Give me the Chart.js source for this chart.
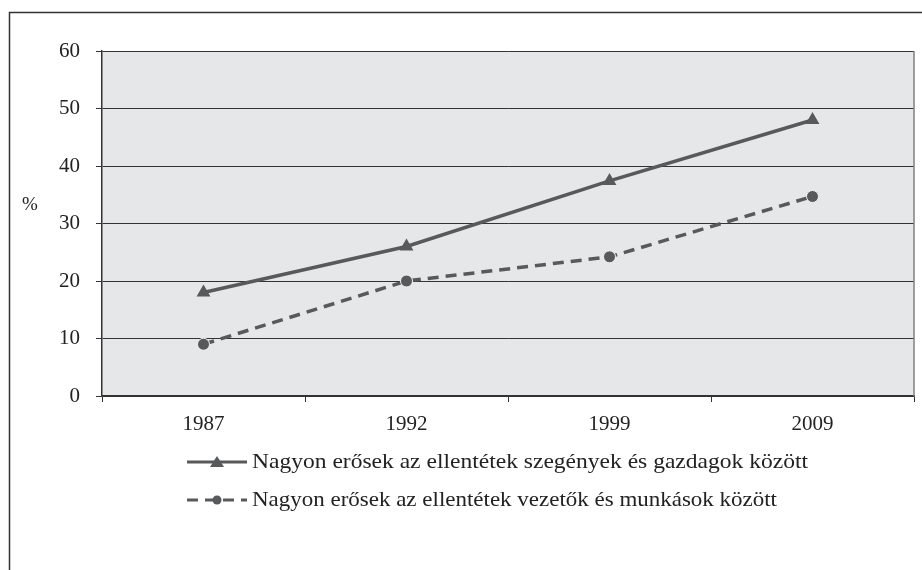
<!DOCTYPE html>
<html>
<head>
<meta charset="utf-8">
<script src="https://cdn.jsdelivr.net/npm/chart.js@4/dist/chart.umd.min.js"></script>
<style>
  html, body { margin: 0; padding: 0; background: #fff; }
  #wrap { width: 922px; height: 570px; position: relative; }
</style>
</head>
<body>
<div id="wrap"><canvas id="chart" width="922" height="570"></canvas></div>
<script>
// adatok
const years = ['1987', '1992', '1999', '2009'];
const szegenyGazdag = [18, 26, 37.4, 48];
const vezetoMunkas = [9, 20, 24.2, 34.7];
const yTicks = [0, 10, 20, 30, 40, 50, 60];
const labelSzegeny = 'Nagyon erősek az ellentétek szegények és gazdagok között';
const labelVezeto = 'Nagyon erősek az ellentétek vezetők és munkások között';

const FONT = '"Liberation Serif", "DejaVu Serif", serif';
const LINE = '#58595b';

// háttér, keret, % felirat, jelmagyarázat
const decor = {
  id: 'decor',
  beforeDraw(chart) {
    const { ctx, chartArea: a } = chart;
    ctx.save();
    ctx.fillStyle = '#fff';
    ctx.fillRect(0, 0, chart.width, chart.height);
    ctx.strokeStyle = '#333';
    ctx.lineWidth = 1.5;
    ctx.beginPath();
    ctx.moveTo(9.5, 570);
    ctx.lineTo(9.5, 12.5);
    ctx.lineTo(922, 12.5);
    ctx.stroke();
    ctx.fillStyle = '#e6e7e8';
    ctx.fillRect(a.left, a.top, a.right - a.left, a.bottom - a.top);
    ctx.restore();
  },
  afterDraw(chart) {
    const { ctx, chartArea: a } = chart;
    ctx.save();
    ctx.strokeStyle = '#808080';
    ctx.lineWidth = 1.5;
    ctx.beginPath();
    ctx.moveTo(a.right, a.top);
    ctx.lineTo(a.right, a.bottom);
    ctx.stroke();

    ctx.fillStyle = '#222';
    ctx.font = '19px ' + FONT;
    ctx.textAlign = 'left';
    ctx.textBaseline = 'middle';
    ctx.fillText('%', 22, 205);

    // jelmagyarázat (a szöveg kb. az eredeti szélességére nyújtva)
    const rows = [
      { y: 462, w: 556, ds: chart.data.datasets[0] },
      { y: 500, w: 525, ds: chart.data.datasets[1] },
    ];
    rows.forEach((r) => {
      ctx.strokeStyle = r.ds.borderColor;
      ctx.lineWidth = 3;
      ctx.setLineDash(r.ds.borderDash || []);
      ctx.beginPath();
      ctx.moveTo(187, r.y);
      ctx.lineTo(247, r.y);
      ctx.stroke();
      ctx.setLineDash([]);
      ctx.fillStyle = r.ds.pointBackgroundColor;
      ctx.beginPath();
      if (r.ds.pointStyle === 'triangle') {
        ctx.moveTo(217, r.y - 6);
        ctx.lineTo(224, r.y + 5);
        ctx.lineTo(210, r.y + 5);
      } else {
        ctx.arc(217, r.y, 4.5, 0, Math.PI * 2);
      }
      ctx.fill();
      ctx.fillStyle = '#222';
      ctx.font = '21px ' + FONT;
      const sx = r.w / ctx.measureText(r.ds.label).width;
      ctx.save();
      ctx.translate(252, r.y);
      ctx.scale(sx, 1);
      ctx.fillText(r.ds.label, 0, 0);
      ctx.restore();
    });
    ctx.restore();
  },
};

const ctx = document.getElementById('chart').getContext('2d');
const myChart = new Chart(ctx, {
  type: 'line',
  data: {
    labels: years,
    datasets: [{
      label: labelSzegeny,
      data: szegenyGazdag,
      borderColor: LINE,
      borderWidth: 3.5,
      pointStyle: 'triangle',
      pointRadius: 8,
      pointBackgroundColor: LINE,
      pointBorderColor: LINE,
      pointBorderWidth: 0,
      tension: 0,
    }, {
      label: labelVezeto,
      data: vezetoMunkas,
      borderColor: LINE,
      borderWidth: 3.5,
      borderDash: [11, 7],
      pointStyle: 'circle',
      pointRadius: 6,
      pointBackgroundColor: LINE,
      pointBorderColor: '#f4f4f4',
      pointBorderWidth: 1,
      tension: 0,
    }],
  },
  options: {
    responsive: false,
    animation: false,
    layout: { padding: { top: 51, right: 6, left: 0, bottom: 0 } },
    plugins: {
      legend: { display: false },
      tooltip: { enabled: false },
    },
    scales: {
      x: {
        offset: true,
        afterFit(scale) { scale.height = 174; },
        border: { color: '#333', width: 1.5 },
        grid: {
          offset: true,
          drawOnChartArea: false,
          drawTicks: true,
          tickLength: 6,
          color: '#333',
        },
        ticks: {
          color: '#222',
          padding: 10,
          font: { family: FONT, size: 21 },
        },
      },
      y: {
        min: 0,
        max: 60,
        afterFit(scale) { scale.width = 102; },
        afterBuildTicks(scale) { scale.ticks = yTicks.map((v) => ({ value: v })); },
        border: { color: '#333', width: 1.5 },
        grid: {
          color: '#333',
          lineWidth: 1,
          drawTicks: true,
          tickLength: 6,
        },
        ticks: {
          color: '#222',
          padding: 16,
          font: { family: FONT, size: 21 },
        },
      },
    },
  },
  plugins: [decor],
});
</script>
</body>
</html>
